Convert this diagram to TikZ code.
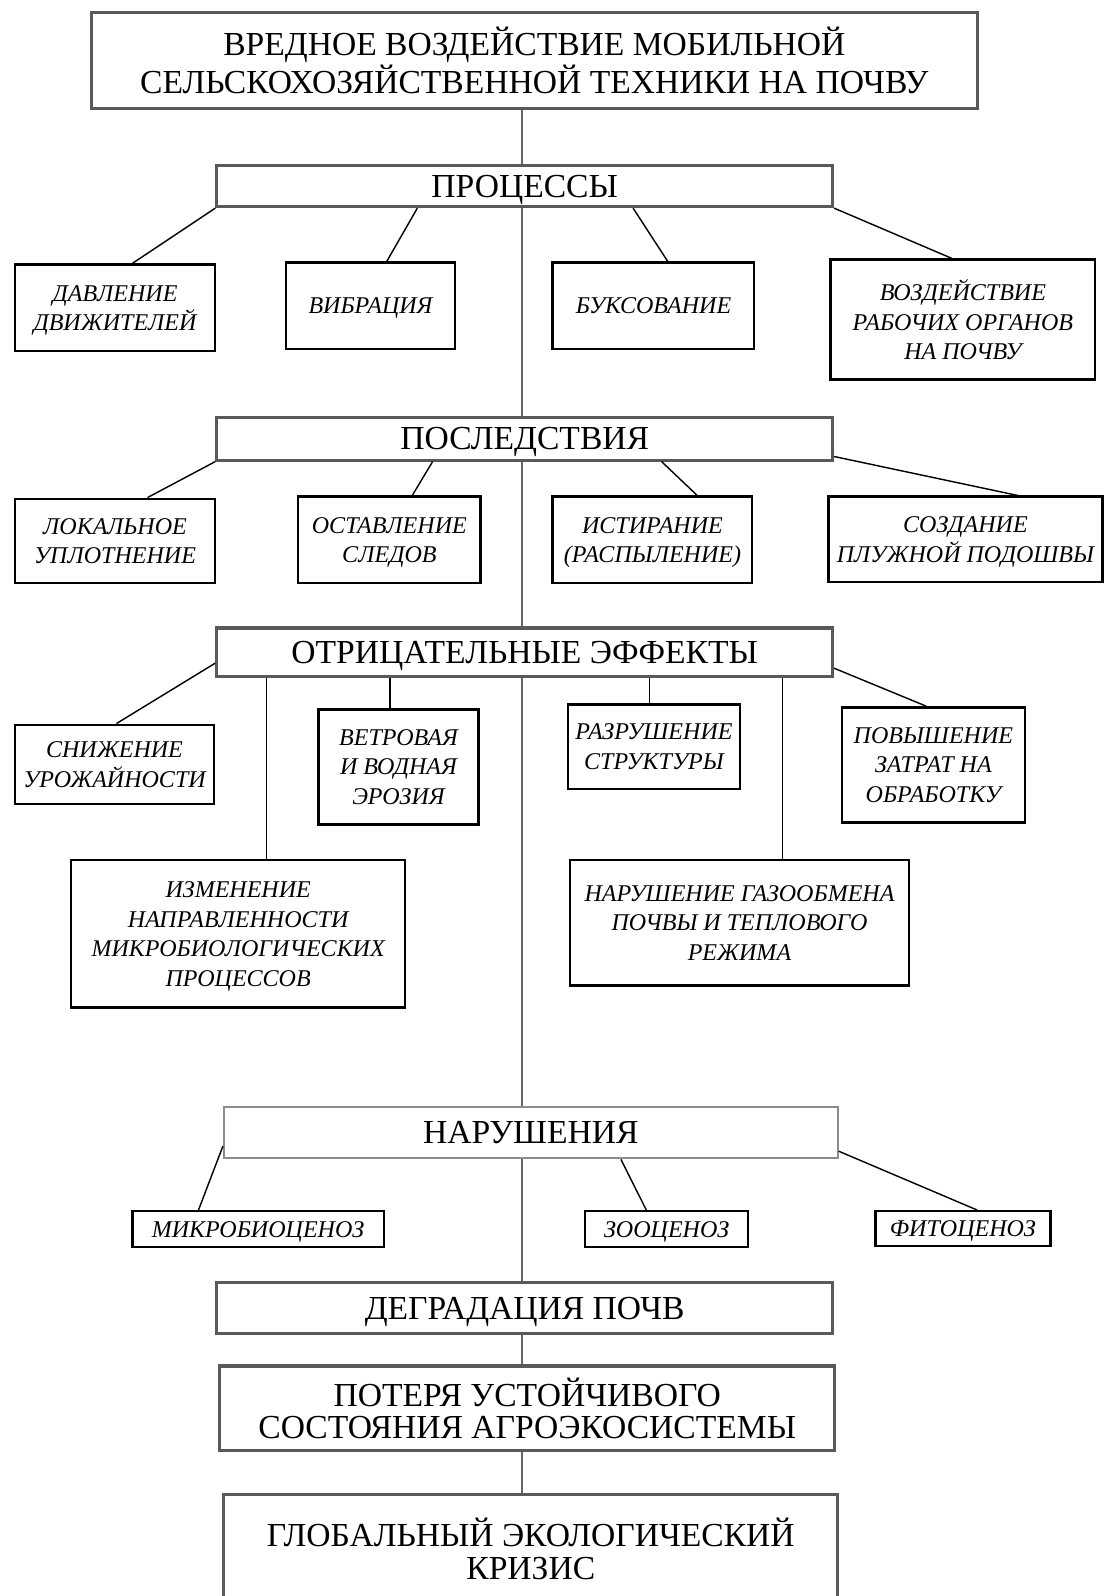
\documentclass[tikz,border=0pt]{standalone}
\usepackage{fontspec}
\setmainfont{Liberation Serif}
\usetikzlibrary{calc}
\tikzset{
  title/.style={draw=black!65, line width=1.5pt, fill=white, inner sep=0pt, align=center,
    text depth=0pt, font=\fontsize{16.5}{16}\selectfont},
  lighttitle/.style={title, draw=black!45, line width=1pt},
  item/.style={draw=black, line width=1.2pt, fill=white, inner sep=0pt, align=center,
    text depth=0pt, font=\fontsize{11.8}{14.5}\selectfont\itshape},
  link/.style={line width=0.7pt},
  trunkline/.style={line width=1pt, draw=black!60},
}
\begin{document}
\begin{tikzpicture}[x=0.5pt,y=-0.5pt]
\path[use as bounding box] (0,0) rectangle (1084,1568);
\coordinate (trunk) at (513,0);
% title boxes
\node[title, minimum width=435pt, minimum height=47.5pt] (top) at (525,59.5)
  {ВРЕДНОЕ ВОЗДЕЙСТВИЕ МОБИЛЬНОЙ\\СЕЛЬСКОХОЗЯЙСТВЕННОЙ ТЕХНИКИ НА ПОЧВУ};
\node[title, minimum width=302.5pt, minimum height=20pt] (proc) at (515.5,183) {ПРОЦЕССЫ};
\node[title, minimum width=302.5pt, minimum height=21pt] (posl) at (515.5,431) {ПОСЛЕДСТВИЯ};
\node[title, minimum width=302.5pt, minimum height=24pt] (otr) at (515.5,641) {ОТРИЦАТЕЛЬНЫЕ ЭФФЕКТЫ};
\node[lighttitle, minimum width=301.5pt, minimum height=25pt] (nar) at (521.5,1113) {НАРУШЕНИЯ};
\node[title, minimum width=302.5pt, minimum height=25pt] (degr) at (515.5,1285) {ДЕГРАДАЦИЯ ПОЧВ};
\node[title, minimum width=302pt, minimum height=41.5pt] (pot) at (518,1383.5)
  {ПОТЕРЯ УСТОЙЧИВОГО\\СОСТОЯНИЯ АГРОЭКОСИСТЕМЫ};
\node[title, minimum width=301.5pt, minimum height=53.5pt] (glob) at (521.5,1521.5)
  {ГЛОБАЛЬНЫЙ ЭКОЛОГИЧЕСКИЙ\\КРИЗИС};
% process items
\node[item, minimum width=98pt, minimum height=42.5pt] (P1) at (113,302.5) {ДАВЛЕНИЕ\\ДВИЖИТЕЛЕЙ};
\node[item, minimum width=83pt, minimum height=42.5pt] (P2) at (364,300.5) {ВИБРАЦИЯ};
\node[item, minimum width=99pt, minimum height=42.5pt] (P3) at (642,300.5) {БУКСОВАНИЕ};
\node[item, minimum width=130pt, minimum height=59pt] (P4) at (946,314) {ВОЗДЕЙСТВИЕ\\РАБОЧИХ ОРГАНОВ\\НА ПОЧВУ};
% consequences
\node[item, minimum width=98pt, minimum height=41.5pt] (C1) at (113,531.5) {ЛОКАЛЬНОЕ\\УПЛОТНЕНИЕ};
\node[item, minimum width=89.5pt, minimum height=42.5pt] (C2) at (382.5,530.5) {ОСТАВЛЕНИЕ\\СЛЕДОВ};
\node[item, minimum width=98pt, minimum height=42.5pt] (C3) at (641,530.5) {ИСТИРАНИЕ\\(РАСПЫЛЕНИЕ)};
\node[item, minimum width=134.5pt, minimum height=42pt] (C4) at (948.5,530) {СОЗДАНИЕ\\ПЛУЖНОЙ ПОДОШВЫ};
% negative effects
\node[item, minimum width=97.5pt, minimum height=39pt] (E1) at (112.5,751) {СНИЖЕНИЕ\\УРОЖАЙНОСТИ};
\node[item, minimum width=78.5pt, minimum height=56.5pt] (E2) at (391.5,753.5) {ВЕТРОВАЯ\\И ВОДНАЯ\\ЭРОЗИЯ};
\node[item, minimum width=84.5pt, minimum height=41.5pt] (E3) at (642.5,733.5) {РАЗРУШЕНИЕ\\СТРУКТУРЫ};
\node[item, minimum width=90pt, minimum height=56.5pt] (E4) at (917,751.5) {ПОВЫШЕНИЕ\\ЗАТРАТ НА\\ОБРАБОТКУ};
\node[item, minimum width=164pt, minimum height=72.5pt] (E5) at (234,917.5)
  {ИЗМЕНЕНИЕ\\НАПРАВЛЕННОСТИ\\МИКРОБИОЛОГИЧЕСКИХ\\ПРОЦЕССОВ};
\node[item, minimum width=166.5pt, minimum height=61.5pt] (E6) at (726.5,906.5)
  {НАРУШЕНИЕ ГАЗООБМЕНА\\ПОЧВЫ И ТЕПЛОВОГО\\РЕЖИМА};
% disturbances
\node[item, minimum width=123.5pt, minimum height=17.5pt] (N1) at (253.5,1207.5) {МИКРОБИОЦЕНОЗ};
\node[item, minimum width=80pt, minimum height=17.5pt] (N2) at (655,1207.5) {ЗООЦЕНОЗ};
\node[item, minimum width=86pt, minimum height=17pt] (N3) at (946,1207) {ФИТОЦЕНОЗ};
% trunk
\draw[trunkline] (top.south -| trunk) -- (proc.north -| trunk);
\draw[trunkline] (proc.south -| trunk) -- (posl.north -| trunk);
\draw[trunkline] (posl.south -| trunk) -- (otr.north -| trunk);
\draw[trunkline] (otr.south -| trunk) -- (nar.north -| trunk);
\draw[trunkline] (nar.south -| trunk) -- (degr.north -| trunk);
\draw[trunkline] (degr.south -| trunk) -- (pot.north -| trunk);
\draw[trunkline] (pot.south -| trunk) -- (glob.north -| trunk);
% process links
\draw[link] (proc.south west) -- ($(P1.north)+(17,0)$);
\draw[link] ($(proc.south)+(-105.5,0)$) -- ($(P2.north)+(16,0)$);
\draw[link] ($(proc.south)+(106.5,0)$) -- ($(P3.north)+(14,0)$);
\draw[link] (proc.south east) -- ($(P4.north)+(-11,0)$);
% consequence links
\draw[link] (posl.south west) -- ($(C1.north)+(32,0)$);
\draw[link] ($(posl.south)+(-90.5,0)$) -- ($(C2.north)+(22.5,0)$);
\draw[link] ($(posl.south)+(134.5,0)$) -- ($(C3.north)+(44,0)$);
\draw[link] ($(posl.south east)+(0,-5)$) -- ($(C4.north)+(51.5,0)$);
% effect links
\draw[link] ($(otr.south west)+(0,-15)$) -- ($(E1.north)+(2,0)$);
\draw[link] ($(E5.north)+(28,0)$) coordinate (a5) -- (a5 |- otr.south);
\draw[link] ($(E2.north)+(-8.5,0)$) coordinate (a2) -- (a2 |- otr.south);
\draw[link] ($(E3.north)+(-4.5,0)$) coordinate (a3) -- (a3 |- otr.south);
\draw[link] ($(E6.north)+(42.5,0)$) coordinate (a6) -- (a6 |- otr.south);
\draw[link] ($(otr.south east)+(0,-10)$) -- ($(E4.north)+(-7,0)$);
% disturbance links
\draw[link] ($(nar.south west)+(0,-13)$) -- ($(N1.north)+(-58.5,0)$);
\draw[link] ($(nar.south)+(88.5,0)$) -- ($(N2.north)+(-20,0)$);
\draw[link] ($(nar.south east)+(0,-8)$) -- ($(N3.north)+(14,0)$);
\end{tikzpicture}
\end{document}
